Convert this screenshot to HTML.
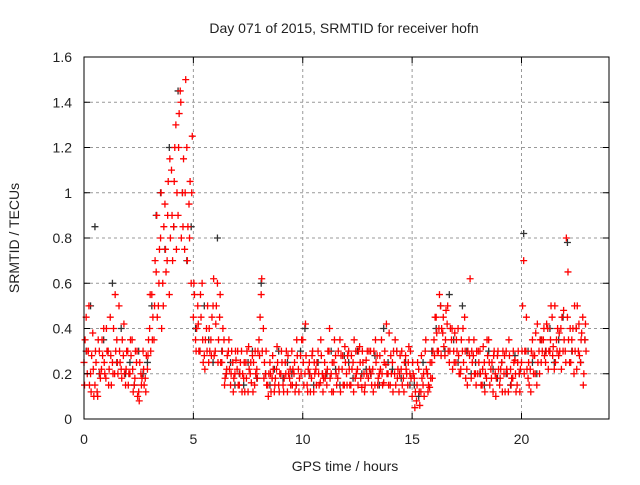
<!DOCTYPE html>
<html><head><meta charset="utf-8"><style>
body{margin:0;background:#fff;}
svg text{font-family:"Liberation Sans",sans-serif;font-size:14px;fill:#222;}
</style></head><body>
<svg id="chart" width="640" height="480" xmlns="http://www.w3.org/2000/svg">
<rect width="640" height="480" fill="#fff"/>
<g id="grid"></g>
<g id="black"></g>
<g id="red"></g>
<g id="axes"></g>
<text x="344" y="33" text-anchor="middle">Day 071 of 2015, SRMTID for receiver hofn</text>
<text x="345" y="471" text-anchor="middle">GPS time / hours</text>
<text transform="translate(19,238) rotate(-90)" text-anchor="middle">SRMTID / TECUs</text>
</svg>
<script>
const xTicks=[0,5,10,15,20];
const yTicks=[0,0.2,0.4,0.6,0.8,1,1.2,1.4,1.6];
const stepA=0.1, offsetA=0, offsetB=0.05, offsetC=0.025, stepK=0.2;
const redA=[0.25,0.45,0.3,0.2,0.38,0.15,0.12,0.3,0.22,0.4,
0.18,0.3,0.45,0.25,0.2,0.35,0.5,0.22,0.28,0.15,
0.3,0.2,0.35,0.15,0.25,0.12,0.2,0.3,0.18,0.22,
0.4,0.55,0.35,0.65,0.5,0.8,0.6,0.95,0.7,0.55,
1.1,0.85,1.3,0.9,1.45,1.0,0.75,1.2,0.95,0.6,
0.45,0.35,0.5,0.3,0.6,0.28,0.4,0.25,0.35,0.5,
0.3,0.6,0.45,0.25,0.35,0.2,0.3,0.15,0.25,0.2,
0.22,0.15,0.3,0.18,0.25,0.12,0.2,0.28,0.15,0.22,
0.35,0.55,0.4,0.2,0.15,0.25,0.18,0.12,0.22,0.15,
0.2,0.15,0.25,0.12,0.18,0.3,0.2,0.15,0.22,0.28,
0.35,0.2,0.15,0.25,0.18,0.12,0.22,0.3,0.16,0.2,
0.25,0.15,0.3,0.2,0.12,0.28,0.18,0.35,0.22,0.15,
0.2,0.3,0.15,0.25,0.18,0.22,0.32,0.14,0.2,0.26,
0.18,0.3,0.22,0.15,0.28,0.2,0.35,0.16,0.24,0.2,
0.15,0.25,0.2,0.3,0.12,0.22,0.18,0.28,0.15,0.2,
0.1,0.18,0.08,0.22,0.12,0.15,0.3,0.2,0.14,0.25,
0.35,0.45,0.3,0.5,0.38,0.28,0.42,0.25,0.35,0.3,
0.25,0.4,0.2,0.3,0.45,0.22,0.35,0.18,0.28,0.2,
0.2,0.3,0.15,0.25,0.18,0.35,0.22,0.12,0.2,0.28,
0.15,0.25,0.2,0.3,0.12,0.22,0.18,0.26,0.15,0.2,
0.25,0.7,0.3,0.18,0.22,0.35,0.28,0.15,0.3,0.25,
0.35,0.25,0.4,0.3,0.45,0.22,0.35,0.28,0.4,0.3,
0.3,0.45,0.25,0.35,0.2,0.4,0.3,0.25,0.45,0.35];
const redB=[0.35,0.2,0.15,0.28,0.1,0.25,0.35,0.18,0.28,0.2,
0.3,0.22,0.15,0.4,0.3,0.2,0.25,0.35,0.2,0.3,
0.2,0.28,0.12,0.3,0.1,0.25,0.18,0.15,0.28,0.35,
0.3,0.45,0.7,0.45,0.75,0.4,0.85,0.65,1.05,0.8,
0.7,1.2,1.0,1.35,0.8,1.15,1.5,0.85,1.05,1.25,
0.55,0.4,0.3,0.45,0.25,0.35,0.5,0.3,0.45,0.28,
0.5,0.35,0.25,0.4,0.18,0.28,0.22,0.3,0.18,0.26,
0.15,0.25,0.2,0.12,0.3,0.22,0.16,0.25,0.2,0.3,
0.45,0.3,0.25,0.15,0.2,0.12,0.22,0.18,0.25,0.2,
0.25,0.18,0.3,0.2,0.15,0.22,0.12,0.28,0.18,0.35,
0.15,0.28,0.22,0.12,0.3,0.2,0.25,0.15,0.28,0.18,
0.2,0.3,0.18,0.25,0.35,0.15,0.22,0.28,0.15,0.25,
0.28,0.15,0.22,0.35,0.2,0.3,0.18,0.25,0.15,0.3,
0.22,0.15,0.3,0.25,0.18,0.22,0.15,0.3,0.2,0.38,
0.2,0.3,0.15,0.22,0.28,0.15,0.25,0.2,0.32,0.18,
0.2,0.12,0.25,0.06,0.18,0.1,0.22,0.15,0.18,0.3,
0.45,0.3,0.55,0.4,0.32,0.48,0.3,0.4,0.22,0.38,
0.3,0.2,0.35,0.25,0.18,0.3,0.62,0.25,0.2,0.3,
0.25,0.15,0.32,0.2,0.28,0.15,0.25,0.3,0.18,0.22,
0.22,0.3,0.12,0.2,0.28,0.18,0.25,0.12,0.3,0.22,
0.5,0.3,0.22,0.15,0.3,0.2,0.38,0.25,0.35,0.3,
0.28,0.42,0.3,0.5,0.32,0.25,0.4,0.3,0.45,0.35,
0.8,0.35,0.25,0.4,0.3,0.5,0.28,0.38,0.2,0.3];
const redC=[0.15,0.3,0.5,0.12,0.22,0.3,0.1,0.2,0.35,0.25,
0.4,0.15,0.28,0.2,0.55,0.25,0.3,0.18,0.42,0.22,
0.15,0.35,0.22,0.18,0.3,0.08,0.15,0.22,0.12,0.28,
0.55,0.35,0.5,0.9,0.6,1.0,0.5,0.75,0.9,1.15,
0.9,1.05,0.75,1.2,1.4,0.85,1.0,0.7,0.8,1.0,
0.6,0.3,0.42,0.55,0.35,0.22,0.3,0.4,0.28,0.62,
0.42,0.25,0.55,0.3,0.15,0.22,0.35,0.2,0.12,0.3,
0.3,0.2,0.12,0.25,0.18,0.32,0.25,0.12,0.3,0.18,
0.28,0.62,0.18,0.3,0.1,0.2,0.28,0.15,0.32,0.12,
0.3,0.12,0.2,0.28,0.22,0.15,0.25,0.35,0.12,0.2,
0.25,0.42,0.12,0.2,0.28,0.25,0.15,0.2,0.35,0.12,
0.18,0.22,0.4,0.12,0.25,0.2,0.3,0.12,0.28,0.32,
0.15,0.22,0.28,0.12,0.3,0.15,0.25,0.3,0.12,0.2,
0.3,0.2,0.12,0.35,0.15,0.28,0.2,0.25,0.42,0.15,
0.28,0.12,0.35,0.18,0.2,0.3,0.12,0.22,0.25,0.3,
0.25,0.05,0.15,0.12,0.28,0.2,0.35,0.12,0.25,0.18,
0.28,0.38,0.4,0.28,0.45,0.35,0.5,0.3,0.4,0.25,
0.35,0.28,0.22,0.4,0.3,0.15,0.28,0.3,0.35,0.15,
0.3,0.2,0.22,0.12,0.35,0.25,0.18,0.28,0.1,0.3,
0.18,0.12,0.28,0.22,0.35,0.15,0.3,0.2,0.25,0.12,
0.3,0.2,0.45,0.25,0.12,0.28,0.2,0.42,0.2,0.35,
0.4,0.3,0.22,0.35,0.28,0.5,0.3,0.38,0.22,0.48,
0.25,0.65,0.4,0.3,0.5,0.22,0.42,0.35,0.15,0.42];
const blackK=[0.3,0.5,0.85,0.2,0.35, 0.3,0.6,0.25,0.4,0.2, 0.25,0.15,0.3,0.2,0.25,
0.5,0.9,1.0,0.75,1.2, 0.85,1.45,1.0,0.7,0.85, 0.4,0.3,0.5,0.35,0.25,
0.8,0.3,0.2,0.25,0.15, 0.2,0.15,0.25,0.3,0.18, 0.6,0.2,0.15,0.22,0.3,
0.18,0.25,0.2,0.15,0.3, 0.4,0.2,0.15,0.25,0.2, 0.2,0.3,0.22,0.15,0.28,
0.25,0.18,0.3,0.2,0.22, 0.2,0.28,0.15,0.4,0.25, 0.22,0.3,0.18,0.25,0.15,
0.15,0.1,0.25,0.2,0.3, 0.4,0.5,0.3,0.55,0.35, 0.25,0.5,0.3,0.2,0.25,
0.2,0.15,0.3,0.22,0.18, 0.25,0.2,0.15,0.28,0.2, 0.82,0.3,0.25,0.2,0.35,
0.3,0.4,0.25,0.35,0.45, 0.78,0.3,0.4,0.25,0.35];

const L=84,R=609,T=57,B=419,XMAX=24,YMAX=1.6;
const sx=v=>L+(R-L)*v/XMAX, sy=v=>B-(B-T)*v/YMAX;
const NS='http://www.w3.org/2000/svg';
function mk(tag,attrs,parent){const e=document.createElementNS(NS,tag);for(const k in attrs)e.setAttribute(k,attrs[k]);parent.appendChild(e);return e;}
const grid=document.getElementById('grid'),axes=document.getElementById('axes');
yTicks.forEach(v=>{
  const y=sy(v);
  if(v>0&&v<YMAX){const g=mk('line',{x1:L,x2:R,y1:y,y2:y,stroke:'#999','stroke-dasharray':'3,3'},grid);
  
  }
  mk('line',{x1:L,x2:L+6,y1:y,y2:y,stroke:'#000'},axes);
  mk('line',{x1:R-6,x2:R,y1:y,y2:y,stroke:'#000'},axes);
  const t=mk('text',{x:L-12,y:y+5,'text-anchor':'end'},axes);t.textContent=String(v);
  
  
});
xTicks.forEach(v=>{
  const x=sx(v);
  if(v>0){const g=mk('line',{x1:x,x2:x,y1:T,y2:B,stroke:'#999','stroke-dasharray':'3,3'},grid);
  
  }
  mk('line',{x1:x,x2:x,y1:B,y2:B-6,stroke:'#000'},axes);
  mk('line',{x1:x,x2:x,y1:T,y2:T+6,stroke:'#000'},axes);
  const t=mk('text',{x:x,y:B+25,'text-anchor':'middle'},axes);t.textContent=String(v);
  
  
});
const frame=mk('rect',{x:L,y:T,width:R-L,height:B-T,fill:'none',stroke:'#000','stroke-width':1},axes);


function plus(vals,step,off,color,g,name){
  let d='';
  vals.forEach((v,i)=>{const x=sx(off+i*step),y=sy(v);d+=`M${x-3.5},${y}h7M${x},${y-3.5}v7`;});
  const p=mk('path',{d:d,stroke:color,'stroke-width':1.3,fill:'none'},g);
  
  
}
plus(blackK,stepK,0.1,'#333',document.getElementById('black'),'black-series-points');
plus(redA,stepA,offsetA,'#f00',document.getElementById('red'),'red-series-points-a');
plus(redB,stepA,offsetB,'#f00',document.getElementById('red'),'red-series-points-b');
plus(redC,stepA,offsetC,'#f00',document.getElementById('red'),'red-series-points-c');
</script>
</body></html>
